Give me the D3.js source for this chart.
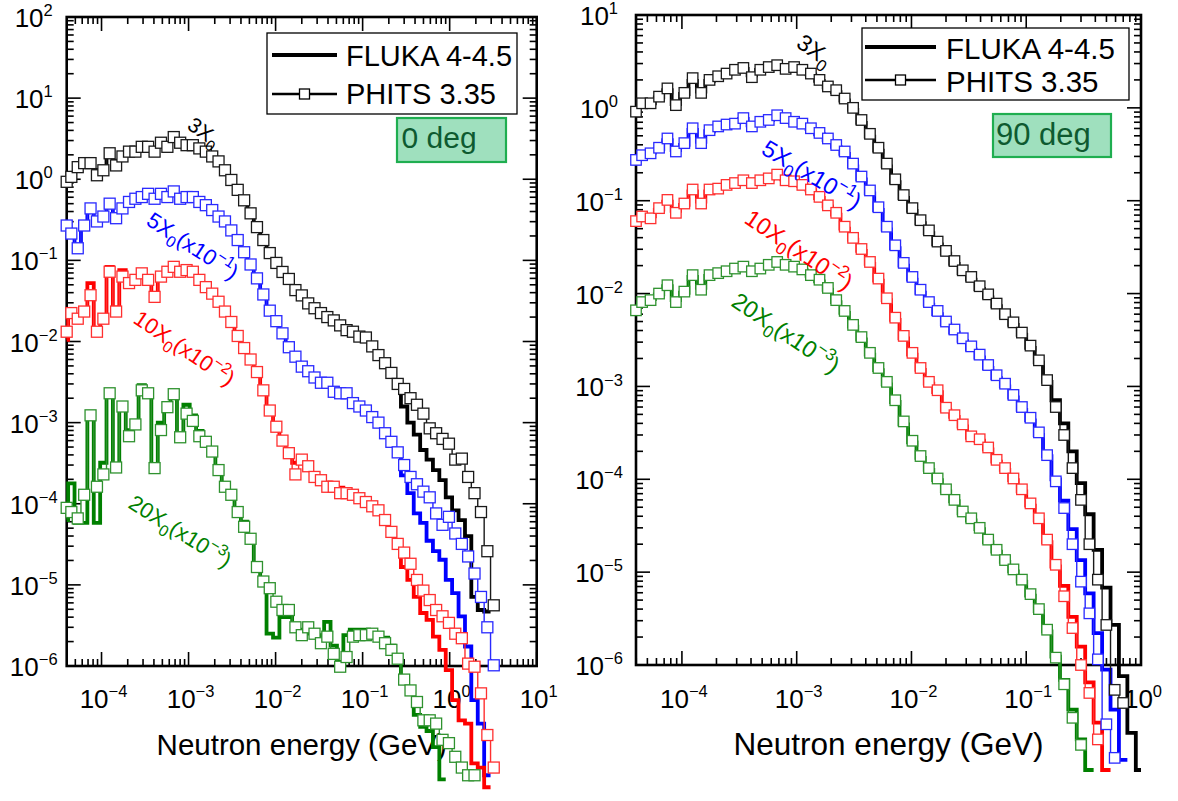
<!DOCTYPE html>
<html><head><meta charset="utf-8">
<script src="https://cdn.jsdelivr.net/npm/d3@7"></script>
<style>
body{margin:0;background:#fff}
svg{display:block}
text{font-family:'Liberation Sans',Arial,sans-serif}
</style>
</head><body>
<svg id="c" width="1178" height="801"></svg>
<script>
// ---------- DATA ----------
// bin-centre neutron energies (GeV)
const energies = [
 3.80e-5,4.50e-5,5.33e-5,6.32e-5,7.48e-5,8.86e-5,1.05e-4,1.24e-4,1.47e-4,1.74e-4,
 2.07e-4,2.45e-4,2.90e-4,3.43e-4,4.07e-4,4.82e-4,5.71e-4,6.76e-4,8.01e-4,9.49e-4,
 1.12e-3,1.33e-3,1.58e-3,1.87e-3,2.21e-3,2.62e-3,3.10e-3,3.67e-3,4.35e-3,5.16e-3,
 6.11e-3,7.23e-3,8.57e-3,1.02e-2,1.20e-2,1.42e-2,1.69e-2,2.00e-2,2.37e-2,2.80e-2,
 3.32e-2,3.93e-2,4.66e-2,5.52e-2,6.54e-2,7.74e-2,9.17e-2,0.109,0.129,0.152,
 0.181,0.214,0.253,0.300,0.355,0.421,0.499,0.590,0.699,0.828,
 0.981,1.16,1.38,1.63,1.93,2.29,2.71,3.21];

const seriesNames = ['3X0','5X0','10X0','20X0'];
const labelMain = ['3X','5X','10X','20X'];
const labelScale = [null,'\u22121','\u22122','\u22123'];
const codeNames = ['FLUKA 4-4.5','PHITS 3.35'];
const panelTags = ['0 deg','90 deg'];
const leftXExp = [-4,-3,-2,-1,0,1];
const leftYExp = [2,1,0,-1,-2,-3,-4,-5,-6];
const rightXExp = [-4,-3,-2,-1,0];
const rightYExp = [1,0,-1,-2,-3,-4,-5,-6];
const axisTitle = 'Neutron energy (GeV)';

// ---- 0 deg panel ----
const left_FLUKA_3X0 = [
 0.95,1.07,1.41,1.45,1.58,1.30,1.29,2.09,1.70,1.91,
 2.19,2.19,2.51,2.51,2.30,2.82,2.51,3.31,2.82,2.63,
 2.63,2.40,2.19,1.91,1.66,1.29,1.0,0.74,0.55,0.38,
 0.27,0.178,0.13,0.093,0.072,0.059,0.043,0.037,0.0295,0.0257,
 0.0224,0.0200,0.0195,0.0158,0.0138,0.0132,0.0115,0.0112,8.7e-3,6.8e-3,
 5.4e-3,4.1e-3,2.8e-3,1.58e-3,1.0e-3,7.1e-4,4.6e-4,3.5e-4,2.6e-4,1.95e-4,
 1.2e-4,8.3e-5,6.3e-5,4.0e-5,7.1e-6,4.9e-6,4.7e-6];
const left_PHITS_3X0 = [
 0.93,1.07,1.41,1.58,1.58,1.12,1.29,2.09,1.48,1.91,
 2.19,2.19,2.51,2.51,2.19,2.82,2.51,3.31,2.82,2.63,
 2.63,2.40,2.19,1.91,1.66,1.29,0.98,0.74,0.55,0.38,
 0.257,0.178,0.123,0.093,0.072,0.059,0.043,0.037,0.0295,0.0257,
 0.0224,0.0200,0.0182,0.0158,0.0138,0.0132,0.0115,0.0112,8.7e-3,6.8e-3,
 5.4e-3,4.1e-3,3.0e-3,2.6e-3,2.0e-3,1.66e-3,1.29e-3,8.5e-4,7.4e-4,6.3e-4,
 5.5e-4,3.5e-4,3.6e-4,2.14e-4,1.35e-4,7.9e-5,2.6e-5,5.6e-6];
const left_FLUKA_5X0 = [
 0.26,0.20,0.135,0.26,0.45,0.28,0.36,0.52,0.33,0.45,
 0.54,0.575,0.62,0.661,0.59,0.661,0.62,0.708,0.59,0.603,
 0.59,0.525,0.47,0.417,0.34,0.295,0.229,0.172,0.123,0.087,
 0.059,0.037,0.024,0.0174,0.0123,8.3e-3,6.5e-3,5.0e-3,4.3e-3,3.7e-3,
 3.2e-3,3.0e-3,2.6e-3,2.4e-3,2.3e-3,1.78e-3,1.62e-3,1.41e-3,1.15e-3,9.5e-4,
 7.2e-4,5.6e-4,4.2e-4,2.24e-4,1.35e-4,7.6e-5,5.8e-5,3.5e-5,2.6e-5,2.04e-5,
 1.15e-5,7.9e-6,4.1e-6,1.74e-6,3.8e-7,1.95e-7,4.5e-8];
const left_PHITS_5X0 = [
 0.269,0.214,0.141,0.269,0.437,0.302,0.347,0.50,0.331,0.437,
 0.525,0.575,0.603,0.661,0.575,0.661,0.603,0.708,0.575,0.603,
 0.603,0.525,0.479,0.417,0.347,0.302,0.234,0.178,0.126,0.089,
 0.060,0.038,0.024,0.0178,0.0126,8.5e-3,6.5e-3,4.9e-3,4.3e-3,3.6e-3,
 3.1e-3,3.1e-3,2.4e-3,2.3e-3,2.3e-3,1.74e-3,1.58e-3,1.41e-3,1.17e-3,1.0e-3,
 7.4e-4,5.8e-4,4.3e-4,3.0e-4,2.14e-4,1.74e-4,1.41e-4,1.2e-4,7.6e-5,5.5e-5,
 6.9e-5,4.3e-5,3.2e-5,2.24e-5,1.38e-5,7.1e-6,3.0e-6,1.02e-6];
const left_FLUKA_10X0 = [
 0.0105,0.0224,0.0178,0.0234,0.0525,0.0120,0.0191,0.0832,0.0263,0.0759,
 0.0575,0.0631,0.0692,0.0631,0.0398,0.0692,0.0794,0.0832,0.0759,0.0759,
 0.0692,0.055,0.0447,0.0372,0.0295,0.0219,0.0158,0.011,7.9e-3,5.8e-3,
 4.0e-3,2.4e-3,1.32e-3,8.5e-4,5.6e-4,4.5e-4,3.2e-4,3.3e-4,2.8e-4,2.4e-4,
 2.0e-4,1.82e-4,1.74e-4,1.58e-4,1.45e-4,1.35e-4,1.2e-4,1.05e-4,9.1e-5,7.9e-5,
 6.0e-5,4.3e-5,3.0e-5,1.66e-5,1.15e-5,7.1e-6,4.5e-6,3.7e-6,2.3e-6,1.58e-6,
 8.9e-7,3.8e-7,2.14e-7,1.95e-7,6.3e-8,5.6e-8,3.2e-8];
const left_PHITS_10X0 = [
 0.0132,0.0224,0.0191,0.0234,0.0372,0.0132,0.0191,0.0724,0.0234,0.0631,
 0.0525,0.0575,0.0692,0.0575,0.0355,0.0631,0.0724,0.0832,0.0724,0.0759,
 0.0724,0.0575,0.0468,0.0389,0.0309,0.0234,0.0174,0.0117,8.3e-3,6.0e-3,
 4.2e-3,2.5e-3,1.41e-3,8.9e-4,6.0e-4,4.2e-4,2.3e-4,3.5e-4,2.9e-4,2.14e-4,
 1.95e-4,1.62e-4,1.62e-4,1.35e-4,1.35e-4,1.29e-4,1.17e-4,1.05e-4,9.3e-5,8.3e-5,
 6.3e-5,4.5e-5,3.2e-5,2.5e-5,1.82e-5,1.15e-5,8.5e-6,6.5e-6,4.9e-6,4.1e-6,
 3.4e-6,2.5e-6,2.2e-6,1.07e-6,9.8e-7,4.6e-7,1.41e-7,5.6e-8];
const left_FLUKA_20X0 = [
 6.3e-5,1.78e-4,5.8e-5,5.8e-5,1.12e-3,5.8e-5,3.2e-4,2.5e-3,2.8e-4,1.74e-3,
 8.1e-4,8.9e-4,2.9e-3,2.3e-3,2.8e-4,1.0e-3,1.74e-3,2.3e-3,6.8e-4,1.66e-3,
 1.23e-3,7.9e-4,5.5e-4,4.2e-4,2.8e-4,1.62e-4,1.2e-4,8.9e-5,6.0e-5,3.5e-5,
 1.58e-5,1.12e-5,2.5e-6,2.24e-6,4.0e-6,4.0e-6,2.8e-6,2.8e-6,2.5e-6,2.5e-6,
 2.4e-6,3.5e-6,1.78e-6,1.12e-6,2.4e-6,2.8e-6,2.8e-6,2.8e-6,2.7e-6,2.4e-6,
 2.24e-6,1.78e-6,1.12e-6,6.3e-7,5.0e-7,2.5e-7,1.78e-7,1.58e-7,1.0e-7,4.0e-8];
const left_PHITS_20X0 = [
 8.9e-5,7.9e-5,6.6e-5,1.29e-4,1.23e-3,1.62e-4,2.3e-4,2.3e-3,2.8e-4,1.58e-3,
 6.8e-4,9.5e-4,2.5e-3,2.3e-3,2.75e-4,8.1e-4,1.55e-3,2.24e-3,6.6e-4,1.29e-3,
 1.05e-3,6.8e-4,5.8e-4,4.4e-4,2.6e-4,1.62e-4,1.29e-4,7.9e-5,5.2e-5,3.7e-5,
 1.66e-5,1.1e-5,9.1e-6,6.2e-6,4.9e-6,4.9e-6,3.0e-6,2.4e-6,3.0e-6,2.5e-6,
 1.91e-6,2.3e-6,1.41e-6,9.8e-7,1.29e-6,2.3e-6,2.4e-6,2.4e-6,2.5e-6,2.3e-6,
 1.91e-6,1.58e-6,1.23e-6,6.8e-7,5.0e-7,3.6e-7,2.14e-7,2.14e-7,1.95e-7,1.23e-7,
 1.12e-7,7.6e-8,5.6e-8,4.5e-8,4.5e-8];

// ---- 90 deg panel ----
const right_FLUKA_3X0 = [
 0.95,1.12,1.12,1.30,1.55,1.10,1.41,1.95,1.50,1.95,
 2.19,2.34,2.51,2.63,2.24,2.57,2.69,2.88,2.63,2.69,
 2.51,2.29,1.95,1.66,1.48,1.20,0.95,0.69,0.49,0.347,
 0.234,0.158,0.107,0.0776,0.0575,0.0447,0.0339,0.0269,0.0209,0.0166,
 0.0141,0.0112,9.1e-3,7.3e-3,5.6e-3,4.6e-3,3.6e-3,2.6e-3,1.82e-3,1.12e-3,
 7.1e-4,4.0e-4,2.0e-4,9.1e-5,4.2e-5,1.74e-5,6.8e-6,2.7e-6,7.6e-7,1.86e-7,7.4e-8];
const right_PHITS_3X0 = [
 0.91,1.12,1.12,1.32,1.62,1.07,1.45,2.09,1.45,2.0,
 2.19,2.34,2.57,2.69,2.14,2.57,2.75,2.88,2.63,2.75,
 2.57,2.34,2.0,1.70,1.55,1.26,1.0,0.74,0.525,0.372,
 0.251,0.170,0.115,0.0832,0.0617,0.0479,0.0363,0.0288,0.0224,0.0178,
 0.0151,0.0120,9.8e-3,7.8e-3,6.0e-3,4.9e-3,3.8e-3,2.75e-3,1.91e-3,1.17e-3,
 6.0e-4,3.0e-4,1.32e-4,6.0e-5,2.0e-5,8.3e-6,2.7e-6,5.4e-7,3.9e-7];
const right_FLUKA_5X0 = [
 0.29,0.30,0.33,0.36,0.45,0.35,0.40,0.58,0.43,0.56,
 0.62,0.65,0.68,0.76,0.65,0.69,0.74,0.81,0.78,0.69,
 0.66,0.59,0.52,0.45,0.38,0.32,0.234,0.170,0.120,0.0794,
 0.0490,0.0309,0.0200,0.0141,0.0102,7.6e-3,6.0e-3,4.7e-3,3.8e-3,3.1e-3,
 2.5e-3,2.05e-3,1.58e-3,1.23e-3,1.0e-3,7.6e-4,5.6e-4,4.3e-4,3.0e-4,1.78e-4,
 1.0e-4,5.9e-5,2.9e-5,1.35e-5,5.9e-6,2.2e-6,8.9e-7,3.3e-7,9.5e-8];
const right_PHITS_5X0 = [
 0.275,0.309,0.324,0.372,0.468,0.339,0.417,0.603,0.417,0.575,
 0.631,0.661,0.676,0.776,0.631,0.708,0.741,0.832,0.776,0.708,
 0.676,0.603,0.537,0.468,0.398,0.339,0.251,0.182,0.129,0.0851,
 0.0525,0.0331,0.0214,0.0151,0.0110,8.1e-3,6.5e-3,5.0e-3,4.1e-3,3.3e-3,
 2.7e-3,2.2e-3,1.70e-3,1.32e-3,1.07e-3,8.1e-4,6.0e-4,4.6e-4,3.2e-4,1.82e-4,
 9.5e-5,4.9e-5,2.0e-5,7.9e-6,3.6e-6,1.15e-6,2.3e-7,1.0e-7];
const right_FLUKA_10X0 = [
 0.063,0.066,0.068,0.080,0.098,0.078,0.090,0.126,0.098,0.126,
 0.135,0.145,0.155,0.162,0.158,0.166,0.170,0.186,0.170,0.158,
 0.145,0.129,0.107,0.0871,0.0708,0.0501,0.0380,0.0288,0.0209,0.0138,
 8.5e-3,5.2e-3,3.3e-3,2.2e-3,1.51e-3,1.07e-3,8.7e-4,5.6e-4,4.7e-4,3.7e-4,
 2.8e-4,2.6e-4,2.1e-4,1.55e-4,1.26e-4,9.8e-5,7.4e-5,5.2e-5,3.6e-5,2.1e-5,
 1.15e-5,7.1e-6,3.3e-6,1.58e-6,6.5e-7,2.4e-7,7.4e-8];
const right_PHITS_10X0 = [
 0.0603,0.0676,0.0646,0.0832,0.102,0.0741,0.0933,0.132,0.0933,0.132,
 0.135,0.148,0.155,0.166,0.155,0.166,0.174,0.191,0.166,0.162,
 0.148,0.132,0.110,0.0891,0.0741,0.0525,0.0398,0.0302,0.0219,0.0145,
 8.9e-3,5.5e-3,3.5e-3,2.3e-3,1.58e-3,1.12e-3,9.1e-4,5.9e-4,4.9e-4,3.9e-4,
 2.9e-4,2.7e-4,2.2e-4,1.62e-4,1.32e-4,1.02e-4,7.8e-5,5.5e-5,3.8e-5,2.24e-5,
 1.2e-5,5.5e-6,2.5e-6,1.0e-6,5.0e-7,1.58e-7];
const right_FLUKA_20X0 = [
 7.0e-3,7.8e-3,8.7e-3,9.8e-3,0.0120,8.5e-3,0.0102,0.0151,0.0115,0.0155,
 0.0166,0.0170,0.0182,0.0191,0.0178,0.0186,0.0200,0.0214,0.0204,0.0191,
 0.0178,0.0155,0.0135,0.0110,8.1e-3,6.2e-3,4.4e-3,3.2e-3,2.2e-3,1.5e-3,
 1.05e-3,6.8e-4,3.9e-4,2.5e-4,1.7e-4,1.26e-4,9.8e-5,7.4e-5,5.8e-5,4.3e-5,
 3.6e-5,2.9e-5,2.1e-5,1.66e-5,1.29e-5,1.02e-5,7.9e-6,5.6e-6,3.8e-6,2.3e-6,
 1.23e-6,6.9e-7,3.3e-7,1.58e-7,7.4e-8];
const right_PHITS_20X0 = [
 6.6e-3,8.1e-3,8.5e-3,0.0100,0.0123,8.1e-3,0.0105,0.0158,0.0110,0.0158,
 0.0166,0.0174,0.0186,0.0195,0.0174,0.0186,0.0204,0.0219,0.0204,0.0195,
 0.0182,0.0158,0.0141,0.0115,8.5e-3,6.5e-3,4.6e-3,3.4e-3,2.3e-3,1.58e-3,
 1.12e-3,7.1e-4,4.2e-4,2.6e-4,1.78e-4,1.32e-4,1.02e-4,7.8e-5,6.0e-5,4.5e-5,
 3.8e-5,3.0e-5,2.24e-5,1.74e-5,1.35e-5,1.07e-5,8.3e-6,5.8e-6,4.0e-6,2.4e-6,
 1.2e-6,6.2e-7,2.7e-7,1.38e-7];

// ---------- STYLE / LAYOUT ----------
const lineColors = ['#000000','#0000ff','#ff0000','#008000'];
const markColors = ['#1a1a1a','#2a2aff','#ff3030','#2f922f'];

const panels = [
 {x0:66.7,x1:536.7,y0:17,y1:666, xd:[3.98e-5,10], yd:[1e-6,100],
  xExp:leftXExp, yExp:leftYExp,
  fluka:[left_FLUKA_3X0,left_FLUKA_5X0,left_FLUKA_10X0,left_FLUKA_20X0],
  phits:[left_PHITS_3X0,left_PHITS_5X0,left_PHITS_10X0,left_PHITS_20X0],
  tickFs:26, supFs:16.5, xLabY:708, yLabDx:33, titleFs:29.5, titleY:755, mark:11,
  labels:[[186,128,35,21],[145,224,33,22],[132,322,34,22],[127,507,32,22]],
  legend:{x:267,y:33,w:250,h:81,l1:272,l2:337,tx:346,r1:55,r2:94,t1:66,t2:104,fs:29},
  tag:{x:397,y:118,w:109,h:44,tx:401.5,ty:148,fs:30,text:panelTags[0]}},
 {x0:636,x1:1141,y0:15,y1:665, xd:[3.98e-5,1.0], yd:[1e-6,10],
  xExp:rightXExp, yExp:rightYExp,
  fluka:[right_FLUKA_3X0,right_FLUKA_5X0,right_FLUKA_10X0,right_FLUKA_20X0],
  phits:[right_PHITS_3X0,right_PHITS_5X0,right_PHITS_10X0,right_PHITS_20X0],
  tickFs:26, supFs:16.5, xLabY:708, yLabDx:37, titleFs:31.5, titleY:755, mark:10.5,
  labels:[[795,46,35,23],[760,153,31,23.5],[743,222,34,23.5],[730,305,34,23.5]],
  legend:{x:862,y:28,w:267,h:72,l1:865,l2:936,tx:946,r1:47,r2:80,t1:59,t2:92,fs:29.5},
  tag:{x:993,y:114,w:118,h:43,tx:996,ty:145,fs:31,text:panelTags[1]}}
];

const svg = d3.select('#c');
svg.append('rect').attr('width',1178).attr('height',801).attr('fill','#fff');

function binEdges(j){
  const e = energies[j], n = energies.length;
  const lo = j>0 ? Math.sqrt(energies[j-1]*e) : e*Math.sqrt(e/energies[j+1]);
  const hi = j<n-1 ? Math.sqrt(e*energies[j+1]) : e*Math.sqrt(e/energies[j-1]);
  return [lo,hi];
}
function stepPoints(vals){
  const pts=[];
  vals.forEach((v,j)=>{ if(v==null) return; const [lo,hi]=binEdges(j); pts.push([lo,v],[hi,v]); });
  return pts;
}
function expText(e){ return e<0 ? '\u2212'+Math.abs(e) : String(e); }

panels.forEach((p,pi)=>{
  const g = svg.append('g');
  const xs = d3.scaleLog().domain(p.xd).range([p.x0,p.x1]).clamp(true);
  const ys = d3.scaleLog().domain(p.yd).range([p.y1,p.y0]);
  const xsn = d3.scaleLog().domain(p.xd).range([p.x0,p.x1]);

  // ticks (inward, all four sides)
  const tk = g.append('g').attr('stroke','#000').attr('stroke-width',1.6);
  function ticksFor(dom){
    const out=[];
    const a=Math.floor(Math.log10(dom[0])), b=Math.ceil(Math.log10(dom[1]));
    for(let d=a; d<=b; d++) for(let m=1;m<=9;m++){
      const v=m*Math.pow(10,d);
      if(v>=dom[0]*0.999 && v<=dom[1]*1.001) out.push({v,major:m===1});
    }
    return out;
  }
  ticksFor(p.xd).forEach(t=>{
    const x=xsn(t.v), L=t.major?14:7;
    tk.append('line').attr('x1',x).attr('x2',x).attr('y1',p.y1).attr('y2',p.y1-L);
    tk.append('line').attr('x1',x).attr('x2',x).attr('y1',p.y0).attr('y2',p.y0+L);
  });
  ticksFor(p.yd).forEach(t=>{
    const y=ys(t.v), L=t.major?14:7;
    tk.append('line').attr('y1',y).attr('y2',y).attr('x1',p.x0).attr('x2',p.x0+L);
    tk.append('line').attr('y1',y).attr('y2',y).attr('x1',p.x1).attr('x2',p.x1-L);
  });
  g.append('rect').attr('x',p.x0).attr('y',p.y0).attr('width',p.x1-p.x0).attr('height',p.y1-p.y0)
   .attr('fill','none').attr('stroke','#000').attr('stroke-width',2.6);

  function powLabel(x,y,exp){
    const t=g.append('text').attr('x',x).attr('y',y).attr('text-anchor','middle')
      .attr('font-size',p.tickFs).attr('fill','#000');
    t.append('tspan').text('10');
    t.append('tspan').attr('font-size',p.supFs).attr('dy',-p.tickFs*0.42).text(expText(exp));
  }
  p.xExp.forEach(e=>powLabel(xsn(Math.pow(10,e))+2, p.xLabY, e));
  p.yExp.forEach(e=>powLabel(p.x0-p.yLabDx, ys(Math.pow(10,e))+10, e));

  g.append('text').attr('x',(p.x0+p.x1)/2).attr('y',p.titleY).attr('text-anchor','middle')
   .attr('font-size',p.titleFs).attr('fill','#000').text(axisTitle);

  // data
  const line = d3.line().x(d=>xs(d[0])).y(d=>ys(d[1]));
  p.fluka.forEach((vals,si)=>{
    g.append('path').attr('d',line(stepPoints(vals))).attr('fill','none')
     .attr('stroke',lineColors[si]).attr('stroke-width',3.8).attr('stroke-linejoin','miter');
  });
  p.phits.forEach((vals,si)=>{
    g.append('path').attr('d',line(stepPoints(vals))).attr('fill','none')
     .attr('stroke',markColors[si]).attr('stroke-width',1.4);
    const s=p.mark;
    g.append('g').selectAll('rect').data(vals.map((v,j)=>({v,e:energies[j]})).filter(d=>d.v!=null))
     .join('rect').attr('x',d=>xs(d.e)-s/2).attr('y',d=>ys(d.v)-s/2).attr('width',s).attr('height',s)
     .attr('fill','#fff').attr('stroke',markColors[si]).attr('stroke-width',1.3);
  });

  // rotated series labels
  p.labels.forEach((L,si)=>{
    const [x,y,ang,fs]=L;
    const t=g.append('text').attr('transform',`translate(${x},${y}) rotate(${ang})`)
      .attr('font-size',fs).attr('fill',lineColors[si]);
    t.append('tspan').text(labelMain[si]);
    t.append('tspan').attr('font-size',fs*0.72).attr('dy',fs*0.28).text('0');
    if(labelScale[si]){
      t.append('tspan').attr('dy',-fs*0.28).text('(x10');
      t.append('tspan').attr('font-size',fs*0.72).attr('dy',-fs*0.42).text(labelScale[si]);
      t.append('tspan').attr('dy',fs*0.42).text(')');
    }
  });

  // legend
  const lg=p.legend;
  g.append('rect').attr('x',lg.x).attr('y',lg.y).attr('width',lg.w).attr('height',lg.h)
   .attr('fill','#fff').attr('stroke','#000').attr('stroke-width',1.3);
  g.append('line').attr('x1',lg.l1).attr('x2',lg.l2).attr('y1',lg.r1).attr('y2',lg.r1)
   .attr('stroke','#000').attr('stroke-width',4);
  g.append('line').attr('x1',lg.l1).attr('x2',lg.l2).attr('y1',lg.r2).attr('y2',lg.r2)
   .attr('stroke','#000').attr('stroke-width',2.6);
  g.append('rect').attr('x',(lg.l1+lg.l2)/2-5).attr('y',lg.r2-5).attr('width',10).attr('height',10)
   .attr('fill','#fff').attr('stroke','#000').attr('stroke-width',1.3);
  g.append('text').attr('x',lg.tx).attr('y',lg.t1).attr('font-size',lg.fs).attr('fill','#000').text(codeNames[0]);
  g.append('text').attr('x',lg.tx).attr('y',lg.t2).attr('font-size',lg.fs).attr('fill','#000').text(codeNames[1]);

  // angle tag
  const tg=p.tag;
  g.append('rect').attr('x',tg.x).attr('y',tg.y).attr('width',tg.w).attr('height',tg.h)
   .attr('fill','#9fe0be').attr('stroke','#1fae50').attr('stroke-width',2.2);
  g.append('text').attr('x',tg.tx).attr('y',tg.ty).attr('font-size',tg.fs).attr('fill','#0e5a30').text(tg.text);
});
</script>
</body></html>
